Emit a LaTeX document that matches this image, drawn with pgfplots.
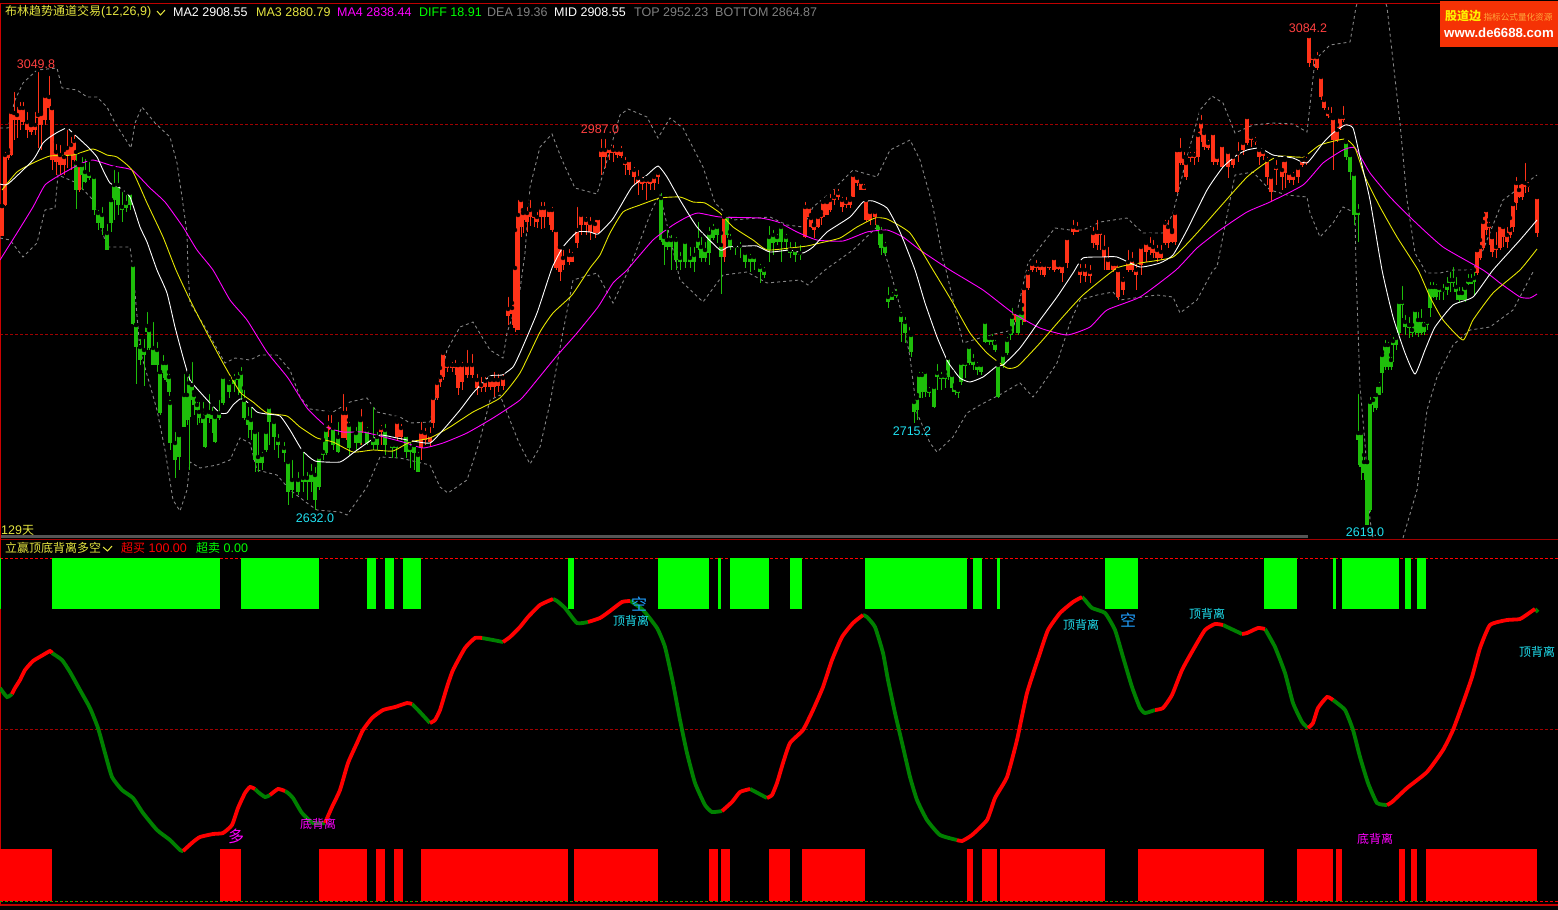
\documentclass[border=0pt]{standalone}
\usepackage{pgfplots}
\usepackage{pgfplotstable}
\usepackage{fontspec}
\pgfplotsset{compat=1.18}
\setmainfont{Liberation Sans}
\newfontfamily\cjk{Noto Sans CJK SC}

\definecolor{upc}{HTML}{FF3218}
\definecolor{downc}{HTML}{1EBE0A}
\definecolor{band}{HTML}{858585}
\definecolor{maw}{HTML}{FFFFFF}
\definecolor{may}{HTML}{E6E600}
\definecolor{mam}{HTML}{FF00FF}
\definecolor{oscr}{HTML}{FF0000}
\definecolor{oscg}{HTML}{008000}
\definecolor{blockg}{HTML}{00FF00}
\definecolor{gridr}{HTML}{A00000}
\definecolor{txtg}{HTML}{808080}
\definecolor{txty}{HTML}{E6E640}
\definecolor{lblr}{HTML}{FF4040}
\definecolor{lblc}{HTML}{20E0F0}

% all positions: x and y in picture pixels
% candles: x high low bodytop bodybottom
\pgfplotstableread{
x hi lo top bot
2 206 236 206 236
5 150 206 155 205
8 150 160 153 158
11 110 156 112 155
14 90 140 113 120
17 105 138 115 120
20 100 130 108 120
23 100 125 108 122
27 110 138 122 130
31 125 135 125 132
35 110 135 125 130
38 70 148 115 118
41 112 150 114 125
45 95 125 96 120
49 74 120 97 108
52 108 170 108 160
56 142 175 152 162
60 143 175 155 165
64 150 175 157 165
67 128 168 148 155
71 135 170 145 155
74 133 165 141 160
79 165 192 165 190
328 413 437 423 430
331 413 436 425 428
343 392 438 413 438
346 405 440 413 438
361 407 445 420 433
381 423 445 428 432
397 418 440 422 437
401 422 440 428 437
421 420 460 432 448
425 426 445 433 440
430 425 447 435 442
433 395 428 398 423
437 380 400 383 398
440 368 387 377 382
443 350 380 353 377
447 362 372 365 368
452 360 372 365 368
455 358 375 365 368
458 365 395 365 388
462 360 390 365 382
467 348 378 365 375
472 352 378 365 375
477 372 395 380 388
481 375 392 385 388
485 375 392 381 387
490 378 390 380 387
494 370 397 380 387
498 372 392 380 386
503 372 390 378 386
508 295 325 309 316
512 303 325 308 314
515 230 332 268 328
518 198 330 215 330
521 198 237 200 227
523 210 233 213 220
527 205 232 213 222
530 198 226 210 217
534 212 227 215 218
537 210 228 217 222
541 200 229 208 217
544 200 228 208 217
549 207 225 210 217
552 205 232 210 230
556 230 270 230 268
560 247 281 247 272
563 248 270 258 265
569 247 265 255 262
572 250 262 255 262
577 205 248 230 243
581 213 235 215 225
586 215 235 220 225
590 215 240 223 232
595 218 238 224 233
598 218 234 218 233
601 137 175 150 157
605 137 168 150 157
609 146 160 148 153
613 143 162 150 153
617 148 158 150 155
621 144 158 150 156
625 155 175 162 165
629 160 175 160 170
634 165 185 170 177
638 168 195 178 183
642 175 190 180 184
646 178 200 180 183
650 178 190 180 184
654 173 190 177 183
658 170 184 173 177
724 215 262 217 257
805 200 238 207 237
809 205 222 207 217
811 215 228 218 227
814 225 238 225 230
818 215 228 217 227
821 212 225 215 218
823 200 217 202 217
827 198 215 202 215
830 192 212 200 210
834 187 205 197 200
838 187 200 193 197
842 195 212 200 207
846 195 208 202 205
850 198 208 200 205
853 174 197 175 197
857 176 186 178 183
861 178 190 182 190
864 182 190 187 190
866 199 222 200 220
870 208 225 212 220
875 208 225 212 217
1015 310 322 312 320
1024 288 322 288 322
1028 268 290 273 288
1032 262 272 264 270
1036 258 272 265 268
1040 260 275 265 270
1044 262 277 265 275
1049 265 270 265 268
1054 258 272 258 270
1058 263 270 265 269
1062 265 282 265 273
1067 238 268 238 263
1073 218 235 227 232
1077 220 232 228 232
1080 262 283 270 275
1085 262 282 270 276
1090 263 283 272 276
1093 225 248 233 243
1097 218 250 232 245
1100 228 250 232 235
1104 233 270 248 257
1108 245 270 260 270
1113 262 272 264 270
1116 262 272 264 270
1118 270 300 270 297
1123 275 295 280 290
1128 248 272 262 270
1132 250 272 260 270
1136 262 290 270 275
1141 243 275 247 265
1146 240 262 243 252
1150 235 255 245 250
1153 238 258 247 253
1157 243 262 250 258
1161 243 260 252 258
1165 218 245 223 243
1168 218 248 227 243
1172 230 243 232 242
1175 212 245 213 242
1177 150 193 150 192
1180 136 165 150 163
1184 150 167 157 165
1186 160 180 163 177
1190 150 162 155 158
1194 150 165 155 158
1198 130 162 135 157
1201 113 142 122 135
1204 130 150 133 147
1208 138 150 143 148
1213 133 165 133 162
1217 155 165 157 162
1222 145 167 145 167
1228 150 178 152 167
1233 153 168 157 165
1238 140 162 153 155
1243 140 155 143 150
1247 117 145 117 143
1251 133 147 137 140
1255 135 145 140 142
1259 148 165 150 157
1263 150 160 152 156
1267 155 185 160 177
1271 175 201 177 192
1276 158 185 167 170
1282 160 190 170 177
1285 158 188 160 173
1289 170 183 173 180
1293 170 185 175 180
1298 165 183 168 177
1302 155 167 160 165
1306 155 165 160 163
1309 36 67 36 63
1313 53 66 57 60
1317 50 70 57 68
1321 75 100 77 97
1324 98 110 100 108
1328 105 118 112 116
1331 105 118 115 117
1333 118 170 118 140
1337 125 142 130 140
1340 113 130 117 128
1343 104 122 117 120
1477 250 275 250 273
1480 240 260 247 258
1483 215 250 222 248
1486 210 235 210 230
1489 220 245 225 228
1492 237 257 237 252
1496 230 258 247 250
1500 222 250 225 248
1503 223 247 227 237
1507 225 248 235 242
1510 218 238 230 235
1513 204 232 204 227
1516 175 210 183 203
1519 183 198 190 197
1522 180 200 182 197
1525 161 193 183 187
1528 180 192 185 187
1537 197 237 197 233
}\upcandles

\pgfplotstableread{
x hi lo top bot
76 152 209 163 190
82 155 190 165 175
85 157 183 172 182
89 160 180 174 178
94 173 215 177 210
98 208 230 213 223
102 205 235 215 228
107 222 250 233 250
111 200 232 200 223
114 168 220 185 200
118 170 215 185 205
122 190 222 207 210
126 193 212 203 208
130 192 210 193 205
133 264 325 265 324
136 325 384 325 347
140 337 365 347 360
144 337 386 350 355
147 310 350 326 332
149 327 350 330 348
153 320 365 348 365
157 340 372 350 365
160 372 415 372 413
163 353 378 363 373
166 362 382 363 380
169 372 412 377 392
170 398 450 403 443
175 430 478 443 460
179 435 470 435 457
184 372 427 395 427
187 375 425 395 420
189 372 470 383 417
192 360 405 385 400
194 392 415 395 405
197 400 425 405 410
199 400 423 412 418
203 400 430 417 423
205 410 448 413 447
209 392 423 412 418
212 405 433 413 419
215 415 443 417 442
219 398 420 413 418
223 375 405 377 403
229 378 398 383 392
234 372 392 378 384
238 370 395 377 380
241 365 400 373 393
244 388 420 400 418
248 405 438 418 425
251 405 440 420 430
255 430 472 432 460
258 430 472 457 463
262 450 470 455 463
266 430 452 432 450
269 403 445 407 422
274 418 450 422 437
278 432 458 440 445
284 440 462 448 453
288 460 505 462 492
292 458 498 480 490
298 470 495 480 492
303 450 492 478 482
307 470 500 478 482
311 462 492 473 482
315 465 510 475 500
319 455 490 457 487
323 440 460 452 455
326 425 455 430 453
333 425 450 428 445
338 420 453 437 452
349 420 455 425 448
356 425 450 433 443
360 418 445 420 443
367 425 445 430 443
373 405 450 440 445
377 430 450 437 445
385 422 455 430 445
392 443 458 445 448
396 443 458 445 448
406 435 458 435 452
410 440 468 448 452
414 445 470 445 453
418 450 472 455 472
661 191 242 198 240
664 235 265 237 245
667 228 250 240 247
671 233 270 240 247
676 235 270 240 260
680 250 270 258 262
685 240 268 242 262
690 245 268 258 262
694 245 272 255 262
698 220 250 240 248
701 235 262 247 258
705 240 262 250 258
709 225 265 233 253
713 222 240 228 238
717 225 243 227 235
721 233 294 245 257
727 213 238 215 235
730 232 250 238 247
735 245 255 246 248
740 240 258 246 248
745 250 268 253 262
750 252 272 257 262
754 255 270 257 262
760 262 283 267 272
764 265 278 270 275
769 224 262 237 250
773 228 255 235 243
777 232 245 237 242
781 225 262 227 242
786 232 250 237 242
790 240 258 250 253
795 240 262 250 255
800 243 260 253 255
878 220 245 223 230
881 225 255 232 248
885 240 255 245 253
888 285 308 297 302
892 290 300 295 300
896 287 298 293 296
901 310 342 315 322
905 315 343 322 333
909 325 340 333 335
911 332 357 335 352
914 398 423 402 412
917 395 420 398 410
919 370 398 375 398
922 370 398 375 392
925 370 397 372 392
929 385 397 390 393
934 385 408 387 407
937 362 390 373 377
941 370 390 376 379
945 372 388 376 379
948 355 380 358 377
952 372 392 375 388
955 385 395 388 392
958 388 398 390 393
961 360 385 363 382
965 360 378 363 366
969 345 365 347 363
973 352 370 360 365
977 360 375 365 370
981 362 375 365 372
985 320 343 322 342
989 333 345 338 342
992 332 345 338 342
995 338 352 343 350
998 362 398 365 397
1003 352 368 355 365
1007 335 355 340 353
1010 328 340 332 335
1012 306 335 317 333
1018 310 335 313 333
1022 305 325 313 320
1346 140 160 142 157
1350 155 180 155 172
1354 173 225 174 215
1358 202 242 211 215
1358 392 465 433 440
1361 430 480 433 467
1364 455 480 462 473
1367 462 525 462 525
1370 395 512 402 510
1373 395 412 400 405
1376 385 410 395 408
1379 380 395 385 395
1382 352 393 355 373
1385 338 370 345 367
1388 340 370 345 367
1391 355 370 360 367
1393 335 362 341 345
1396 335 350 338 345
1399 300 335 302 333
1402 284 318 302 305
1405 313 335 322 327
1409 315 338 325 328
1412 325 337 330 333
1415 307 335 310 332
1418 310 337 320 333
1421 307 335 320 333
1424 320 335 325 332
1427 320 330 322 325
1430 280 317 287 308
1433 280 298 287 297
1436 282 300 287 297
1439 285 300 288 292
1443 282 300 290 292
1447 275 295 285 290
1450 270 292 280 283
1453 265 287 280 283
1456 275 300 287 292
1459 285 302 293 300
1462 285 300 293 300
1465 285 302 288 300
1468 272 285 280 284
1471 272 284 280 284
1474 270 295 278 282
}\downcandles

\begin{document}
\begin{tikzpicture}[every node/.style={font=\fontsize{12.5}{14}\selectfont, inner sep=0pt}]
\fill[black] (0,0) rectangle (1558pt,910pt);
\begin{axis}[
    at={(0,0)}, anchor=south west,
    scale only axis, width=1558pt, height=910pt,
    xmin=0, xmax=1558, ymin=0, ymax=910,
    y dir=reverse, hide axis,
    unbounded coords=jump,
  ]
  % frame and grid lines
  \addplot[gridr, line width=1pt, dash pattern=on 3pt off 2pt] coordinates {(0,124.5)(1558,124.5)};
  \addplot[gridr, line width=1pt, dash pattern=on 3pt off 2pt] coordinates {(0,334.5)(1558,334.5)};
  \addplot[oscr, line width=1pt, dash pattern=on 3pt off 2pt] coordinates {(0,558.5)(1558,558.5)};
  \addplot[gridr, line width=1pt, dash pattern=on 3pt off 2pt] coordinates {(0,729.5)(1558,729.5)};
  \addplot[color={rgb,255:red,85;green,85;blue,85}, line width=3pt] coordinates {(0,536)(1308,536)};
  \addplot[gridr, line width=1pt] coordinates {(0,539.5)(1558,539.5)};
  \addplot[oscr!75!black, line width=1pt] coordinates {(0,3.5)(1440,3.5)};
  \addplot[oscr!75!black, line width=1.2pt] coordinates {(0,905)(1558,905)};
  \addplot[oscr!80!black, line width=1.2pt] coordinates {(0.7,3)(0.7,905)};

  % bollinger band
  \addplot[band, line width=0.9pt, dash pattern=on 3pt off 3pt] coordinates {
    (0,128)(8,128)(15,100)(23,83)(37,70)(57,68)(62,88)(77,90)(87,97)(97,97)(107,107)(115,123)(128,143)(131,148)
    (135,123)(142,107)(155,123)(170,137)(177,163)(182,197)(187,233)(188,270)(190,303)(205,327)(225,363)(235,358)
    (250,360)(260,355)(277,355)(290,370)(300,397)(310,409)(333,412)(350,402)(367,398)(377,412)(400,417)(410,423)
    (430,422)(447,350)(460,327)(473,322)(490,350)(503,358)(507,333)(519,297)(525,253)(530,187)(540,147)(552,134)
    (562,160)(575,188)(597,194)(608,157)(620,115)(628,109)(647,117)(658,138)(670,118)(683,128)(703,167)(715,203)
    (733,220)(770,217)(787,225)(803,227)(813,207)(830,193)(853,170)(877,177)(890,150)(910,140)(920,160)(933,207)
    (943,260)(946,270)(963,343)(990,335)(1013,330)(1028,263)(1040,247)(1055,228)(1070,230)(1083,230)(1100,222)
    (1127,218)(1143,233)(1163,233)(1173,213)(1187,157)(1200,110)(1212,96)(1223,103)(1235,133)(1253,125)(1273,123)
    (1293,124)(1307,132)(1315,60)(1330,45)(1350,42)(1356,7)(1357,4)(1357,nan)
    (1386,4)(1387,7)(1400,123)(1407,200)(1415,253)(1423,267)(1426,273)(1440,273)(1453,270)(1473,270)(1483,250)
    (1503,200)(1537,175)};
  \addplot[band, line width=0.9pt, dash pattern=on 3pt off 3pt] coordinates {
    (0,238)(10,240)(23,257)(37,243)(45,210)(55,208)(58,175)(77,183)(93,200)(107,247)(130,247)(133,270)(140,350)
    (157,410)(165,450)(173,500)(180,511)(187,490)(190,462)(200,468)(217,465)(230,460)(240,438)(250,443)(257,470)
    (277,475)(290,490)(307,503)(317,510)(340,512)(347,515)(367,487)(380,457)(400,458)(417,462)(430,465)(440,487)
    (448,493)(467,480)(480,440)(490,400)(500,395)(519,443)(530,464)(540,447)(550,403)(562,337)(573,280)(597,273)
    (613,303)(630,267)(653,207)(660,195)(677,267)(680,280)(703,302)(717,283)(723,275)(747,272)(767,283)(800,280)
    (808,285)(825,270)(853,250)(877,227)(890,270)(900,307)(910,357)(917,413)(930,443)(937,452)(953,437)(967,413)
    (980,405)(1003,393)(1020,383)(1033,397)(1040,388)(1057,363)(1070,323)(1080,300)(1097,295)(1113,292)(1120,300)
    (1157,295)(1173,297)(1180,313)(1197,300)(1213,270)(1217,267)(1230,200)(1235,175)(1253,172)(1270,190)(1287,195)
    (1307,197)(1310,213)(1320,237)(1333,223)(1343,207)(1355,213)(1356,270)(1360,387)(1365,443)(1370,520)(1373,538)
    (1373,nan)(1403,538)(1417,490)(1427,410)(1437,377)(1453,345)(1470,330)(1490,327)(1513,310)(1533,272)};

  % candles: wick then body
  \addplot[only marks, mark=none, error bars/.cd, y dir=plus, y explicit, error mark=none,
    error bar style={line width=1pt, upc}]
    table[x=x, y=hi, y error expr=\thisrow{lo}-\thisrow{hi}] {\upcandles};
  \addplot[only marks, mark=none, error bars/.cd, y dir=plus, y explicit, error mark=none,
    error bar style={line width=4.2pt, upc}]
    table[x=x, y=top, y error expr=\thisrow{bot}-\thisrow{top}] {\upcandles};
  \addplot[only marks, mark=none, error bars/.cd, y dir=plus, y explicit, error mark=none,
    error bar style={line width=1pt, downc}]
    table[x=x, y=hi, y error expr=\thisrow{lo}-\thisrow{hi}] {\downcandles};
  \addplot[only marks, mark=none, error bars/.cd, y dir=plus, y explicit, error mark=none,
    error bar style={line width=4.2pt, downc}]
    table[x=x, y=top, y error expr=\thisrow{bot}-\thisrow{top}] {\downcandles};

  % moving averages
  \addplot[mam, line width=0.9pt, smooth, tension=0.3] coordinates {
    (0,260)(17,233)(33,207)(45,185)(60,175)(80,164)(93,160)(113,166)(132,170)(150,188)(165,202)(183,227)(197,250)
    (213,270)(230,300)(247,320)(267,352)(288,378)(307,408)(327,427)(343,432)(363,432)(380,436)(403,442)(423,448)
    (443,443)(467,433)(493,418)(520,400)(537,380)(555,358)(577,333)(598,307)(613,283)(627,270)(653,240)(673,225)
    (687,217)(698,213)(720,217)(760,218)(778,222)(797,232)(817,240)(843,241)(867,232)(887,230)(903,237)(920,250)
    (950,270)(983,290)(1013,313)(1040,328)(1067,335)(1090,327)(1107,310)(1140,297)(1176,270)(1197,248)(1220,230)
    (1247,212)(1270,202)(1303,185)(1323,163)(1343,150)(1355,148)(1370,173)(1390,197)(1413,220)(1443,247)(1483,270)
    (1500,283)(1520,297)(1530,298)(1537,294)};
  \addplot[may, line width=0.9pt, smooth, tension=0.3] coordinates {
    (2,190)(17,172)(33,163)(50,156)(73,155)(93,149)(107,155)(117,157)(132,170)(147,203)(163,237)(176,270)(190,300)
    (207,333)(223,363)(240,392)(253,402)(267,413)(287,416)(300,427)(317,438)(333,442)(353,452)(373,450)(393,451)
    (410,442)(430,438)(450,427)(473,412)(500,398)(520,373)(540,332)(553,313)(572,295)(590,268)(600,255)(610,233)
    (623,212)(640,205)(660,198)(680,197)(693,202)(705,203)(720,213)(733,227)(753,240)(767,250)(790,248)(807,246)
    (820,243)(840,238)(857,227)(875,218)(887,219)(910,233)(933,270)(953,303)(970,333)(987,353)(1007,368)(1018,366)
    (1040,343)(1060,320)(1083,295)(1117,268)(1140,263)(1173,257)(1197,233)(1220,207)(1247,177)(1267,162)(1280,156)
    (1303,157)(1320,145)(1345,139)(1355,148)(1365,177)(1380,207)(1397,237)(1418,270)(1430,297)(1443,320)(1463,340)
    (1473,320)(1493,293)(1520,270)(1537,249)};
  \addplot[maw, line width=0.9pt, smooth, tension=0.3] coordinates {
    (0,184)(8,184)(33,160)(43,143)(50,137)(58,132)(67,128)(75,135)(88,147)(97,157)(103,170)(110,183)(120,188)(130,197)
    (140,227)(147,242)(157,270)(167,293)(175,327)(183,357)(190,380)(200,392)(210,403)(220,413)(227,413)(233,405)
    (240,399)(245,400)(257,412)(267,414)(280,416)(290,430)(302,450)(315,461)(340,462)(353,453)(367,443)(380,435)
    (397,438)(413,441)(430,443)(443,430)(460,410)(473,393)(490,376)(502,375)(513,367)(520,353)(537,313)(552,268)
    (563,247)(577,232)(590,232)(598,234)(612,220)(620,207)(632,187)(647,175)(658,166)(667,177)(680,200)(697,227)
    (720,250)(728,247)(747,246)(757,246)(770,252)(790,250)(803,253)(813,247)(827,232)(850,217)(863,202)(873,201)
    (887,208)(900,232)(915,270)(925,303)(937,337)(948,362)(960,378)(970,382)(983,377)(997,366)(1003,365)(1020,348)
    (1040,320)(1057,297)(1073,273)(1083,258)(1103,257)(1117,257)(1140,267)(1160,263)(1173,255)(1187,230)(1207,190)
    (1223,167)(1237,155)(1247,150)(1260,148)(1273,155)(1293,158)(1307,163)(1323,143)(1333,133)(1345,125)(1353,128)
    (1360,157)(1370,200)(1382,270)(1393,317)(1405,353)(1415,374)(1425,350)(1435,327)(1453,305)(1473,297)(1493,270)
    (1520,240)(1537,220)};

  % lower panel: signal blocks
  \addplot[blockg, line width=51pt] coordinates {
    (0,583.5)(1,583.5)(1,nan)(52,583.5)(220,583.5)(220,nan)(241,583.5)(319,583.5)(319,nan)(367,583.5)(376,583.5)(376,nan)
    (385,583.5)(394,583.5)(394,nan)(403,583.5)(421,583.5)(421,nan)(568,583.5)(574,583.5)(574,nan)(658,583.5)(709,583.5)(709,nan)
    (718,583.5)(721,583.5)(721,nan)(730,583.5)(769,583.5)(769,nan)(790,583.5)(802,583.5)(802,nan)(865,583.5)(967,583.5)(967,nan)
    (973,583.5)(982,583.5)(982,nan)(997,583.5)(1000,583.5)(1000,nan)(1105,583.5)(1138,583.5)(1138,nan)(1264,583.5)(1297,583.5)(1297,nan)
    (1333,583.5)(1336,583.5)(1336,nan)(1342,583.5)(1399,583.5)(1399,nan)(1405,583.5)(1411,583.5)(1411,nan)(1417,583.5)(1426,583.5)};
  \addplot[oscr, line width=52pt] coordinates {
    (0,875)(52,875)(52,nan)(220,875)(241,875)(241,nan)(319,875)(367,875)(367,nan)(376,875)(385,875)(385,nan)
    (394,875)(403,875)(403,nan)(421,875)(568,875)(568,nan)(574,875)(658,875)(658,nan)(709,875)(718,875)(718,nan)
    (721,875)(730,875)(730,nan)(769,875)(790,875)(790,nan)(802,875)(865,875)(865,nan)(967,875)(973,875)(973,nan)
    (982,875)(997,875)(997,nan)(1000,875)(1105,875)(1105,nan)(1138,875)(1264,875)(1264,nan)(1297,875)(1333,875)(1333,nan)
    (1336,875)(1342,875)(1342,nan)(1399,875)(1405,875)(1405,nan)(1411,875)(1417,875)(1417,nan)(1426,875)(1537,875)};
  \addplot[oscr, line width=1pt, dash pattern=on 3pt off 2pt] coordinates {(0,901.5)(1558,901.5)};
  \addplot[blockg!70!black, line width=1pt, dash pattern=on 2pt off 3pt] coordinates {(0,901.5)(1537,901.5)};

  % lower panel: oscillator
  \addplot[oscg, line width=3.8pt, smooth, tension=0.3] coordinates {
    (0,688)(7,697)(12,694)(12,nan)
    (52,653)(62,660)(70,672)(80,690)(90,708)(98,728)(105,753)(112,777)(122,790)(133,798)(143,813)(157,830)(170,840)(180,850)(183,851)(183,nan)
    (255,789)(258,792)(265,797)(270,795)(270,nan)
    (285,791)(288,793)(293,798)(302,813)(313,823)(325,823)(325,nan)
    (412,704)(418,710)(430,723)(430,nan)
    (482,638)(493,640)(503,642)(503,nan)
    (553,599)(557,601)(565,608)(577,623)(588,622)(588,nan)
    (630,601)(632,602)(643,610)(657,628)(665,647)(673,683)(680,720)(687,753)(695,783)(705,805)(712,812)(722,811)(722,nan)
    (750,789)(752,790)(767,798)(767,nan)
    (863,615)(867,617)(875,627)(883,653)(888,680)(895,713)(903,747)(910,777)(917,800)(927,820)(940,835)(957,840)(957,nan)
    (1082,597)(1085,600)(1092,608)(1105,613)(1115,630)(1123,657)(1132,687)(1140,708)(1145,713)(1155,710)(1155,nan)
    (1223,625)(1242,634)(1242,nan)
    (1265,629)(1275,647)(1285,673)(1293,703)(1302,722)(1308,728)(1308,nan)
    (1333,700)(1345,710)(1353,730)(1360,757)(1368,783)(1377,803)(1387,805)(1387,nan)
    (1535,609)(1538,612)};
  \addplot[oscr, line width=3.8pt, smooth, tension=0.3] coordinates {
    (12,694)(15,688)(20,680)(25,670)(33,661)(43,655)(50,651)(52,653)(52,nan)
    (183,851)(193,842)(200,837)(213,834)(223,833)(232,825)(238,808)(245,793)(250,787)(255,789)(255,nan)
    (270,795)(278,789)(285,791)(285,nan)
    (325,823)(332,807)(340,790)(348,763)(357,743)(363,730)(372,718)(383,710)(395,707)(407,703)(412,704)(412,nan)
    (430,723)(435,720)(440,710)(447,687)(453,670)(465,648)(475,638)(482,638)(482,nan)
    (503,642)(510,637)(520,627)(528,617)(540,605)(553,599)(553,nan)
    (588,622)(600,618)(610,611)(622,602)(630,601)(630,nan)
    (722,811)(732,802)(740,792)(750,789)(750,nan)
    (767,798)(772,795)(777,783)(783,763)(790,743)(803,730)(813,710)(823,687)(832,660)(842,637)(853,623)(863,615)(863,nan)
    (957,840)(962,841)(972,835)(987,820)(995,798)(1007,777)(1017,740)(1027,693)(1040,653)(1048,630)(1060,613)(1073,602)(1082,597)(1082,nan)
    (1155,710)(1163,708)(1172,695)(1182,670)(1193,650)(1205,630)(1215,624)(1223,625)(1223,nan)
    (1242,634)(1247,633)(1258,628)(1265,629)(1265,nan)
    (1308,728)(1313,723)(1318,708)(1327,697)(1333,700)(1333,nan)
    (1387,805)(1392,802)(1407,788)(1427,772)(1443,750)(1453,730)(1463,703)(1472,677)(1480,648)(1490,625)(1507,620)(1520,619)(1532,611)(1535,609)};

  % header line, upper panel
  \node[anchor=west, txty] at (axis cs:5,12) {{\cjk\fontsize{12}{14}\selectfont 布林趋势通道交易}(12,26,9)};
  \draw[txty, line width=1pt] (axis cs:157,11) -- (axis cs:160.5,15) -- (axis cs:165,10);
  \node[anchor=west, white] at (axis cs:173,12) {MA2 2908.55};
  \node[anchor=west, txty] at (axis cs:256,12) {MA3 2880.79};
  \node[anchor=west, mam] at (axis cs:337,12) {MA4 2838.44};
  \node[anchor=west, blockg] at (axis cs:419,12) {DIFF 18.91};
  \node[anchor=west, txtg] at (axis cs:487,12) {DEA 19.36};
  \node[anchor=west, white] at (axis cs:554,12) {MID 2908.55};
  \node[anchor=west, txtg] at (axis cs:634,12) {TOP 2952.23};
  \node[anchor=west, txtg] at (axis cs:715,12) {BOTTOM 2864.87};

  % price labels
  \node[lblr] at (axis cs:36,64) {3049.8};
  \node[lblr] at (axis cs:600,129) {2987.0};
  \node[lblr] at (axis cs:1308,28) {3084.2};
  \node[lblc] at (axis cs:315,518) {2632.0};
  \node[lblc] at (axis cs:912,431) {2715.2};
  \node[lblc] at (axis cs:1365,532) {2619.0};
  \node[anchor=west, txty] at (axis cs:1,530) {129{\cjk\fontsize{12}{14}\selectfont 天}};

  % header line, lower panel
  \node[anchor=west, txty] at (axis cs:5,548) {\cjk\fontsize{12}{14}\selectfont 立赢顶底背离多空};
  \draw[txty, line width=1pt] (axis cs:103,547) -- (axis cs:107.5,551) -- (axis cs:112,546);
  \node[anchor=west, oscr] at (axis cs:121,548) {{\cjk\fontsize{12}{14}\selectfont 超买} 100.00};
  \node[anchor=west, blockg] at (axis cs:196,548) {{\cjk\fontsize{12}{14}\selectfont 超卖} 0.00};

  % signal labels
  \node[mam, font=\fontsize{16}{18}\selectfont\cjk] at (axis cs:236,836) {多};
  \node[mam, font=\fontsize{12}{14}\selectfont\cjk] at (axis cs:318,824) {底背离};
  \node[mam, font=\fontsize{12}{14}\selectfont\cjk] at (axis cs:1375,839) {底背离};
  \node[color={rgb,255:red,32;green,160;blue,255}, font=\fontsize{16}{18}\selectfont\cjk] at (axis cs:639,604) {空};
  \node[color={rgb,255:red,32;green,160;blue,255}, font=\fontsize{16}{18}\selectfont\cjk] at (axis cs:1128,620) {空};
  \node[lblc, font=\fontsize{12}{14}\selectfont\cjk] at (axis cs:631,621) {顶背离};
  \node[lblc, font=\fontsize{12}{14}\selectfont\cjk] at (axis cs:1081,625) {顶背离};
  \node[lblc, font=\fontsize{12}{14}\selectfont\cjk] at (axis cs:1207,614) {顶背离};
  \node[lblc, font=\fontsize{12}{14}\selectfont\cjk] at (axis cs:1537,652) {顶背离};

  % site badge
  \fill[color={rgb,255:red,245;green,50;blue,5}] (axis cs:1440,1) rectangle (axis cs:1558,47);
  \node[color={rgb,255:red,255;green,240;blue,0}, font=\fontsize{12}{14}\selectfont\cjk\bfseries] at (axis cs:1463,16) {股道边};
  \node[color={rgb,255:red,255;green,170;blue,60}, font=\fontsize{8.6}{10}\selectfont\cjk] at (axis cs:1518,17) {指标公式量化资源};
  \node[white, font=\fontsize{13.2}{16}\selectfont\bfseries] at (axis cs:1499,33) {www.de6688.com};
\end{axis}
\end{tikzpicture}
\end{document}
